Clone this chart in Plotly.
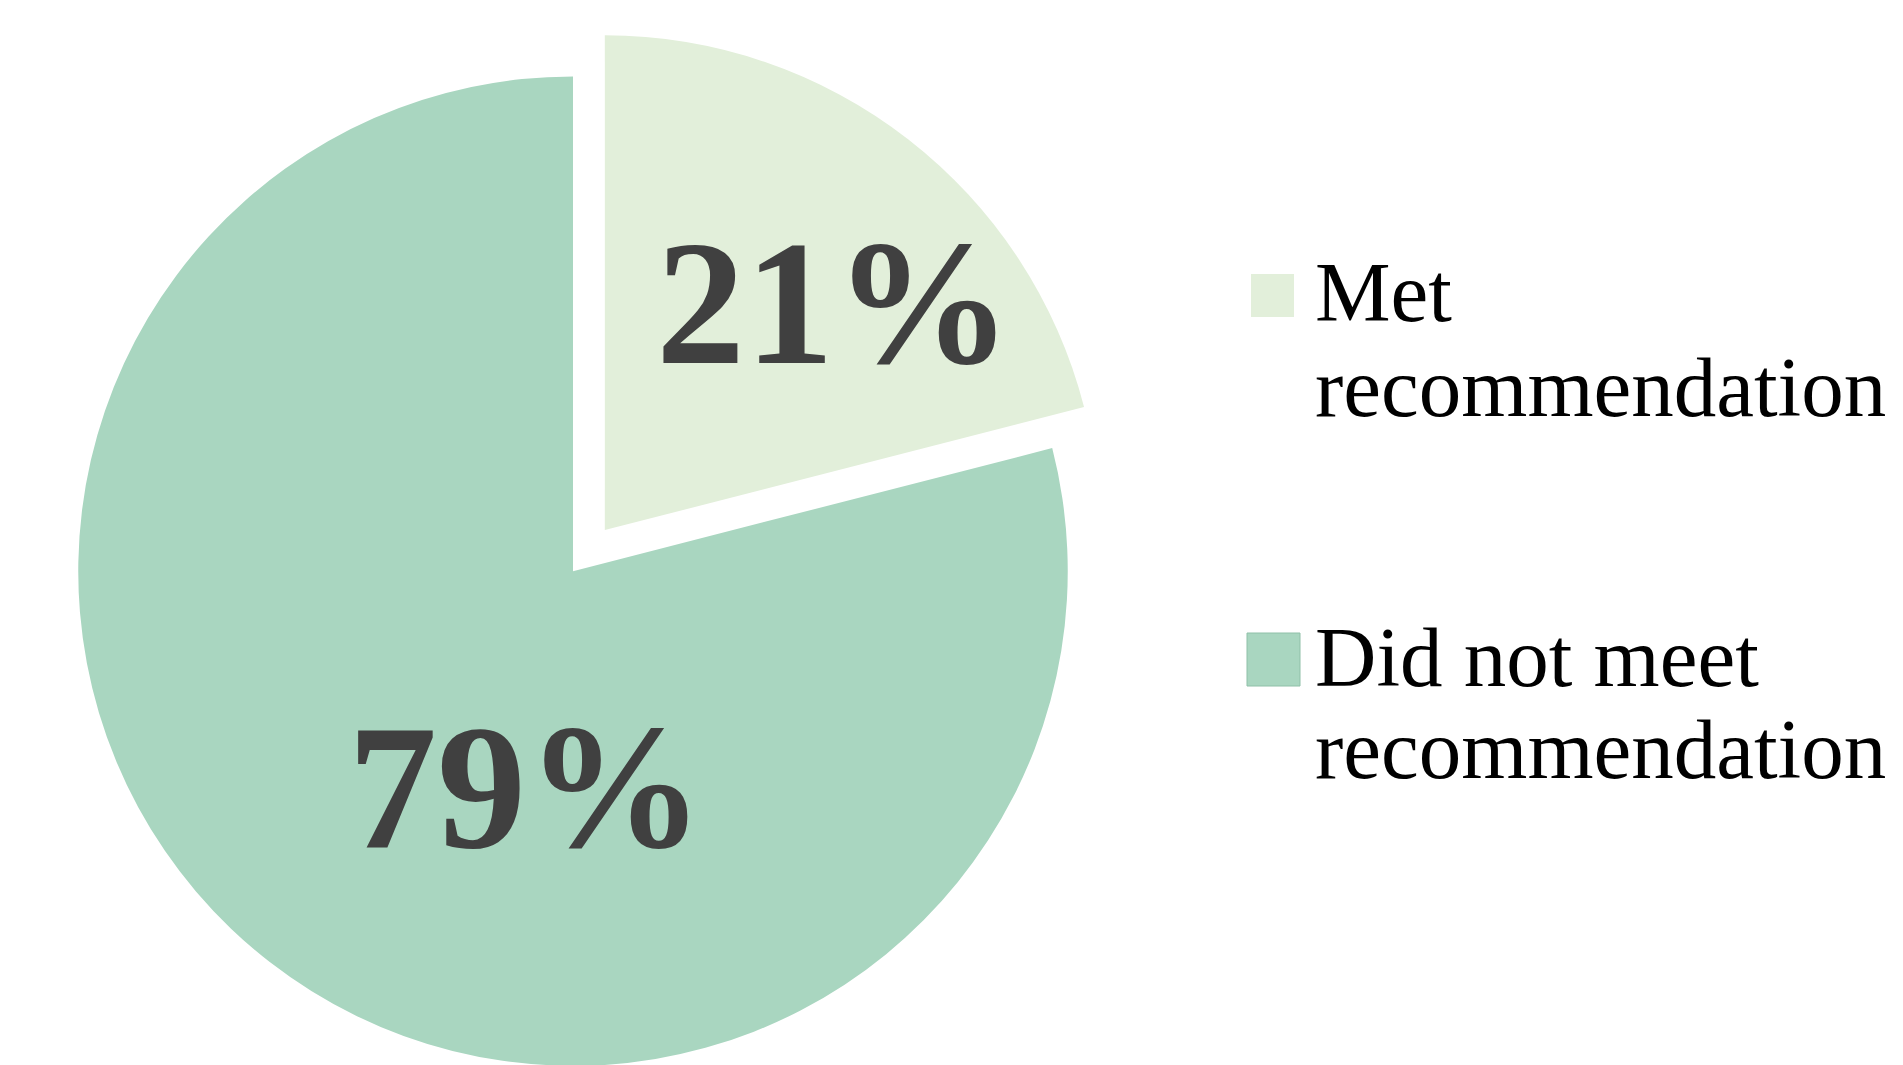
import plotly.graph_objects as go

# ---- data ----
categories = ["Met recommendation", "Did not meet recommendation"]
legend_lines = [["Met", "recommendation"], ["Did not meet", "recommendation"]]
values = [21, 79]
colors = ["#E2EFDA", "#A9D6C0"]
pulls = [0.105, 0]

W, H = 1903, 1118


def px(x):
    return x / W


def py(y):
    return 1 - y / H


# pie box: ~1093 px square, centred at (573, 571)
fig = go.Figure(
    go.Pie(
        labels=categories,
        values=values,
        marker=dict(colors=colors, line=dict(width=0)),
        pull=pulls,
        sort=False,
        direction="clockwise",
        rotation=0,
        textinfo="none",
        hoverinfo="label+percent",
        showlegend=False,
        domain=dict(x=[px(26.3), px(1119.7)], y=[0, py(24.3)]),
    )
)

annotations = []
# percentage labels
pct_pos = [(834, 303), (526, 787)]
for v, (x, y) in zip(values, pct_pos):
    annotations.append(
        dict(
            x=px(x), y=py(y), xref="paper", yref="paper",
            text=f"<b>{v}%</b>", showarrow=False,
            xanchor="center", yanchor="middle",
            font=dict(family="Liberation Serif", size=178, color="#404040"),
        )
    )

# custom legend
line_centers = [[292, 387], [657, 749]]
for lines, ys in zip(legend_lines, line_centers):
    for t, y in zip(lines, ys):
        annotations.append(
            dict(
                x=px(1313), y=py(y), xref="paper", yref="paper",
                text=t, showarrow=False, xanchor="left", yanchor="middle",
                font=dict(family="Liberation Serif", size=85, color="#000000"),
            )
        )

shapes = [
    dict(type="rect", xref="paper", yref="paper",
         x0=px(1251), x1=px(1294), y0=py(317), y1=py(274),
         fillcolor=colors[0], line=dict(width=0)),
    dict(type="rect", xref="paper", yref="paper",
         x0=px(1247), x1=px(1300), y0=py(686), y1=py(633),
         fillcolor=colors[1], line=dict(width=1, color="#8FC0A8")),
]

fig.update_layout(
    width=W, height=H,
    margin=dict(l=0, r=0, t=0, b=0),
    paper_bgcolor="white", plot_bgcolor="white",
    annotations=annotations, shapes=shapes,
)

fig.write_html(
    "out.html",
    post_script="document.body.style.overflow='hidden';document.documentElement.style.overflow='hidden';",
)
